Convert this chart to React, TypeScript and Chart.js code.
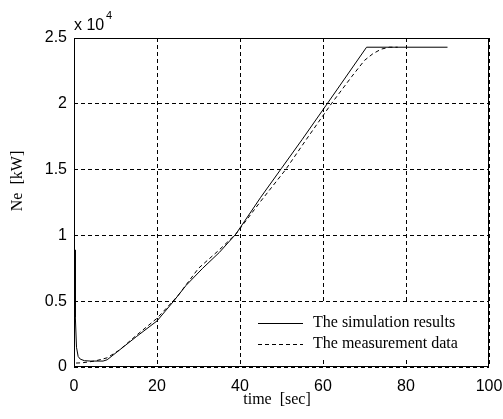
import React, { useEffect, useRef } from "react";
import { Chart, registerables } from "chart.js";

Chart.register(...registerables);

// Simulation results (solid): time [sec], Ne [kW]
const simTime = [0, 0.05, 0.1, 0.15, 0.2, 0.25, 0.3, 0.35, 0.6, 1, 1.5, 2.5, 4, 7, 8, 11, 15, 20, 24, 27, 31, 35, 39, 45, 50, 55, 61, 70.5, 90];
const simNe = [8900, 3800, 8900, 3800, 8900, 3800, 8900, 3800, 1500, 800, 600, 480, 450, 450, 550, 1300, 2300, 3500, 5000, 6200, 7500, 8700, 10100, 12900, 15100, 17300, 20000, 24300, 24300];

// Measurement data (dashed)
const measTime = [0.5, 2, 5, 8, 11, 15, 20, 25, 30, 35, 39, 45, 51, 56, 62, 67, 70, 72, 74, 76, 78];
const measNe = [300, 320, 450, 700, 1300, 2400, 3700, 5400, 7500, 8900, 10100, 12600, 15000, 17300, 20000, 22100, 23300, 23800, 24150, 24300, 24300];

const xTicksStep = 20;
const yTicksStep = 5000;
const yScaleFactor = 10000;
const legendLabels = ["The simulation results", "The measurement data"];
const xTitle = "time  [sec]";
const yTitle = "Ne  [kW]";

const SANS = "'Liberation Sans', Arial, sans-serif";
const SERIF = "'Liberation Serif', 'Times New Roman', serif";

export default function App() {
  const ref = useRef<HTMLCanvasElement | null>(null);

  useEffect(() => {
    if (!ref.current) return;
    const decorations = {
      id: "decorations",
      afterDraw(chart: any) {
        const ctx = chart.ctx;
        const a = chart.chartArea;
        ctx.save();
        ctx.setLineDash([]);
        // legend box (white, no border)
        ctx.fillStyle = "#fff";
        ctx.fillRect(242, 304, a.right - 1 - 242, 54);
        ctx.strokeStyle = "#000";
        ctx.lineWidth = 1;
        ctx.beginPath();
        ctx.moveTo(258, 323.5);
        ctx.lineTo(303, 323.5);
        ctx.stroke();
        ctx.setLineDash([4, 3]);
        ctx.beginPath();
        ctx.moveTo(258, 344.5);
        ctx.lineTo(303, 344.5);
        ctx.stroke();
        ctx.setLineDash([]);
        ctx.fillStyle = "#000";
        ctx.font = `16px ${SERIF}`;
        ctx.textAlign = "left";
        ctx.textBaseline = "middle";
        ctx.fillText(legendLabels[0], 313, 323);
        ctx.fillText(legendLabels[1], 313, 344);
        // frame
        const w = a.right - a.left;
        const h = a.bottom - a.top;
        ctx.fillRect(a.left, a.top, w, 1);
        ctx.fillRect(a.left, a.bottom - 1, w, 1);
        ctx.fillRect(a.left, a.top, 1, h);
        ctx.fillRect(a.right - 1, a.top, 1, h);
        // titles
        ctx.font = `16px ${SERIF}`;
        ctx.textAlign = "center";
        ctx.fillText(xTitle, 277, 400);
        ctx.save();
        ctx.translate(18, 181);
        ctx.rotate(-Math.PI / 2);
        ctx.fillText(yTitle, 0, 0);
        ctx.restore();
        // exponent
        ctx.textAlign = "left";
        ctx.textBaseline = "alphabetic";
        ctx.font = `16px ${SANS}`;
        ctx.fillText("x 10", 74, 30);
        ctx.font = `11px ${SANS}`;
        ctx.fillText("4", 106, 19);
        ctx.restore();
      },
    };

    const chart = new Chart(ref.current, {
      type: "line",
      data: {
        datasets: [
          {
            label: legendLabels[0],
            data: simTime.map((t, i) => ({ x: t, y: simNe[i] })),
            borderColor: "#000",
            borderWidth: 1,
            pointRadius: 0,
            tension: 0,
            fill: false,
          },
          {
            label: legendLabels[1],
            data: measTime.map((t, i) => ({ x: t, y: measNe[i] })),
            borderColor: "#000",
            borderWidth: 1,
            borderDash: [4, 3],
            pointRadius: 0,
            tension: 0,
            fill: false,
          },
        ],
      },
      options: {
        animation: false,
        responsive: false,
        devicePixelRatio: 1,
        layout: { padding: { top: 38, right: 14, left: 0, bottom: 0 } },
        plugins: { legend: { display: false }, tooltip: { enabled: false } },
        scales: {
          x: {
            type: "linear",
            min: 0,
            max: 100,
            afterFit: (s: any) => {
              s.height = 52;
              s.paddingLeft = 0;
              s.paddingRight = 0;
            },
            ticks: {
              stepSize: xTicksStep,
              color: "#000",
              font: { family: SANS, size: 16 },
              padding: 10,
              maxRotation: 0,
            },
            grid: { color: "#000", drawTicks: false, lineWidth: 1 },
            border: { display: false, dash: [4, 3] },
          },
          y: {
            type: "linear",
            min: 0,
            max: 25000,
            afterFit: (s: any) => {
              s.width = 74;
              s.paddingTop = 0;
              s.paddingBottom = 0;
            },
            ticks: {
              stepSize: yTicksStep,
              color: "#000",
              font: { family: SANS, size: 16 },
              padding: 7,
              callback: (v: any) => String(Number(v) / yScaleFactor),
            },
            grid: { color: "#000", drawTicks: false, lineWidth: 1 },
            border: { display: false, dash: [4, 3] },
          },
        },
      },
      plugins: [decorations],
    });
    return () => chart.destroy();
  }, []);

  return (
    <div style={{ position: "absolute", left: 0, top: 0, width: 503, height: 419, background: "#fff" }}>
      <canvas ref={ref} width={503} height={419} style={{ width: 503, height: 419 }} />
    </div>
  );
}
